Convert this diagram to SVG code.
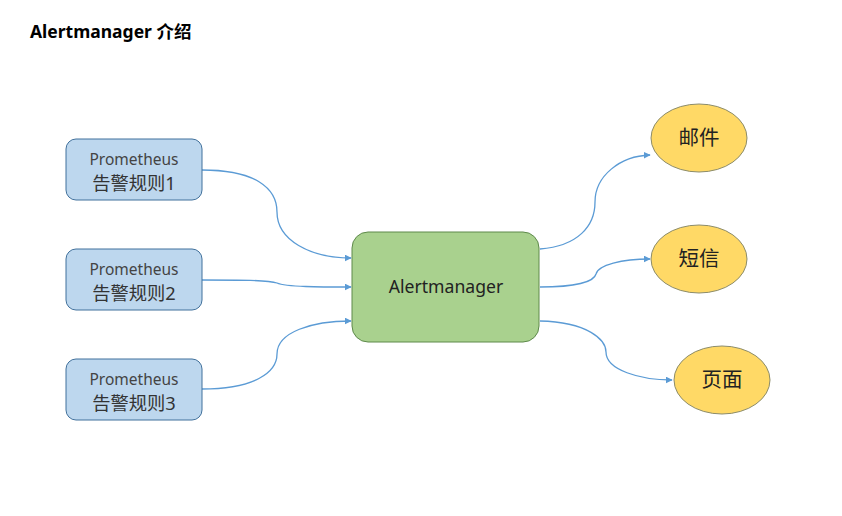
<svg xmlns="http://www.w3.org/2000/svg" width="842" height="516" viewBox="0 0 842 516">
<style>
.src rect{fill:#BDD7EE;stroke:#41719C;stroke-width:1}
.hub rect{fill:#A9D18E;stroke:#5E8A4B;stroke-width:1}
.out ellipse{fill:#FFD966;stroke:#8C8C6A;stroke-width:1}
text{font-family:"Noto Sans","Noto Sans CJK SC",sans-serif;text-anchor:middle;fill:#222}
.en{font-size:15.5px;fill:#444}
.zh{font-size:18.3px;fill:#333}
.el{font-size:20.5px;fill:#222}
.title{font-size:17.5px;font-weight:bold;text-anchor:start;fill:#000}
#connectors path{fill:none;stroke:#5B9BD5;stroke-width:1.3;marker-end:url(#arr)}
</style>
<defs>
<marker id="arr" viewBox="0 0 10 10" refX="9" refY="5" markerWidth="7" markerHeight="7" markerUnits="userSpaceOnUse" orient="auto">
<path d="M0,0 L10,5 L0,10 z" fill="#5B9BD5"/>
</marker>
</defs>
<rect width="842" height="516" fill="#fff"/>
<text class="title" x="30" y="38">Alertmanager 介绍</text>
<g id="connectors">
<path d="M202,170 C255,170 277,188 277,212 C277,240 310,258 351,258"/>
<path d="M202,280 C240,280 268,280 277,283 C286,287 320,287 351,287"/>
<path d="M202,389 C255,389 277,372 277,354 C277,332 312,321 351,321"/>
<path d="M540,249 C578,246 595,226 595,202 C595,176 620,156 650,155"/>
<path d="M540,287 C575,287 594,282 596,274 C598,265 622,259 650,259"/>
<path d="M540,321 C588,322 606,340 606,352 C606,370 640,380 672,380"/>
</g>
<g id="src1" class="src">
<rect x="66" y="139" width="136" height="61" rx="10"/>
<text class="en" x="134" y="164.5">Prometheus</text>
<text class="zh" x="134" y="190">告警规则1</text>
</g>
<g id="src2" class="src">
<rect x="66" y="249" width="136" height="61" rx="10"/>
<text class="en" x="134" y="274.5">Prometheus</text>
<text class="zh" x="134" y="300">告警规则2</text>
</g>
<g id="src3" class="src">
<rect x="66" y="359" width="136" height="61" rx="10"/>
<text class="en" x="134" y="384.5">Prometheus</text>
<text class="zh" x="134" y="410">告警规则3</text>
</g>
<g id="hub" class="hub">
<rect x="352" y="232" width="187" height="110" rx="16"/>
<text x="446" y="293" font-size="17.6">Alertmanager</text>
</g>
<g id="mail" class="out">
<ellipse cx="699" cy="138" rx="48" ry="34"/>
<text class="el" x="699" y="145">邮件</text>
</g>
<g id="sms" class="out">
<ellipse cx="699" cy="259" rx="48" ry="34"/>
<text class="el" x="699" y="266">短信</text>
</g>
<g id="page" class="out">
<ellipse cx="722" cy="380" rx="48" ry="34"/>
<text class="el" x="722" y="387">页面</text>
</g>
</svg>
